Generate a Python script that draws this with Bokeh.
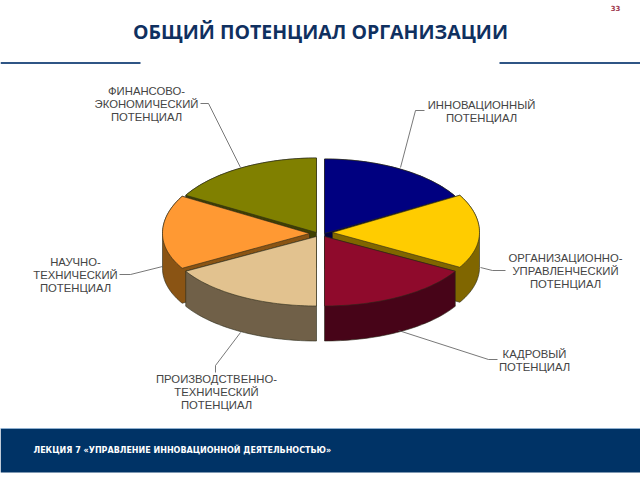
import math
from bokeh.plotting import figure
from bokeh.models import Range1d
from bokeh.core.properties import value
from bokeh.embed import file_html
from bokeh.resources import INLINE

title = "ОБЩИЙ ПОТЕНЦИАЛ ОРГАНИЗАЦИИ"
footer = "ЛЕКЦИЯ 7 «УПРАВЛЕНИЕ ИННОВАЦИОННОЙ ДЕЯТЕЛЬНОСТЬЮ»"
page_no = "33"

categories = [
    "ИННОВАЦИОННЫЙ\nПОТЕНЦИАЛ",
    "ОРГАНИЗАЦИОННО-\nУПРАВЛЕНЧЕСКИЙ\nПОТЕНЦИАЛ",
    "КАДРОВЫЙ\nПОТЕНЦИАЛ",
    "ПРОИЗВОДСТВЕННО-\nТЕХНИЧЕСКИЙ\nПОТЕНЦИАЛ",
    "НАУЧНО-\nТЕХНИЧЕСКИЙ\nПОТЕНЦИАЛ",
    "ФИНАНСОВО-\nЭКОНОМИЧЕСКИЙ\nПОТЕНЦИАЛ",
]
shares = [1, 1, 1, 1, 1, 1]

top_colors = ["#000080", "#FFCC00", "#8F0A2C", "#E2C28F", "#FF9933", "#808000"]
side_colors = ["#000040", "#806600", "#470418", "#706048", "#8A5414", "#404000"]

# layout: slice tips and horizontal radii in picture pixels
tips = [(324, 233), (332, 232), (324, 236), (316, 236), (309, 233), (316, 232)]
radii = [151, 147, 151, 151, 147, 151]
RY_BACK, RY_FRONT, DEPTH = 74.5, 69.5, 35
label_pos = [(481, 104), (565, 257), (534, 353), (216, 378), (75, 261), (146, 90)]
leaders = [
    ([424, 415, 400], [110, 110, 167]),
    ([505, 492, 480], [270, 270, 267]),
    ([497, 488, 398], [359, 359, 330]),
    ([215, 215, 240], [372, 365, 332]),
    ([119, 130, 162], [274, 274, 266]),
    ([200, 208, 240], [103, 103, 167]),
]
draw_order = [5, 0, 4, 1, 3, 2]

p = figure(width=640, height=480, output_backend="svg", toolbar_location=None,
           x_range=Range1d(0, 640), y_range=Range1d(480, 0),
           min_border=0, outline_line_color=None, background_fill_color="white")
p.axis.visible = False
p.grid.visible = False


def hull(points):
    pts = sorted(set(points))
    def half(seq):
        out = []
        for q in seq:
            while len(out) > 1 and ((out[-1][0]-out[-2][0])*(q[1]-out[-2][1])
                                    - (out[-1][1]-out[-2][1])*(q[0]-out[-2][0])) <= 0:
                out.pop()
            out.append(q)
        return out[:-1]
    return half(pts) + half(pts[::-1])


total = sum(shares)
starts = [sum(shares[:i]) / total * 2 * math.pi for i in range(len(shares))]
for i in draw_order:
    a0 = starts[i]
    a1 = a0 + shares[i] / total * 2 * math.pi
    cx, cy = tips[i]
    n = 40
    poly = [(cx, cy)]
    for k in range(n + 1):
        t = a0 + (a1 - a0) * k / n
        c = math.cos(t)
        poly.append((cx + radii[i] * math.sin(t), cy - (RY_BACK if c > 0 else RY_FRONT) * c))
    low = [(x, y + DEPTH) for x, y in poly]
    h = hull(poly + low)
    p.patch([q[0] for q in h], [q[1] for q in h], fill_color=side_colors[i],
            line_color="#2a2a1a", line_width=0.6)
    p.patch([q[0] for q in poly], [q[1] for q in poly], fill_color=top_colors[i],
            line_color="#2a2a1a", line_width=0.6)

for xs, ys in leaders:
    p.line(xs, ys, line_color="#555555", line_width=0.8)

for cat, (x, y) in zip(categories, label_pos):
    for j, line in enumerate(cat.split("\n")):
        p.text([x], [y + 13 * j], text=[line], text_align="center", text_baseline="middle",
               text_font=value("Liberation Sans"), text_font_size="11.3px", text_color="#444444")

# header
p.text([320], [30.5], text=[title], text_align="center", text_baseline="middle",
       text_font=value("Open Sans"), text_font_style="bold", text_font_size="19.5px",
       text_color="#0F3060")
p.text([615], [7], text=[page_no], text_align="center", text_baseline="middle",
       text_font=value("DejaVu Sans"), text_font_style="bold", text_font_size="7px",
       text_color="#A03A50")
p.segment([0, 499], [62.5, 62.5], [140, 640], [62.5, 62.5], line_color="#2F5585", line_width=2)

# footer band
p.quad(left=[0], right=[640], top=[428], bottom=[472], fill_color="#003366", line_color=None)
p.segment([0], [428], [640], [428], line_color="#8FB0D0", line_width=1)
p.text([33], [450], text=[footer], text_align="left", text_baseline="middle",
       text_font=value("DejaVu Sans"), text_font_style="bold", text_font_size="8px",
       text_color="white")

open("out.html", "w").write(file_html(p, INLINE))
